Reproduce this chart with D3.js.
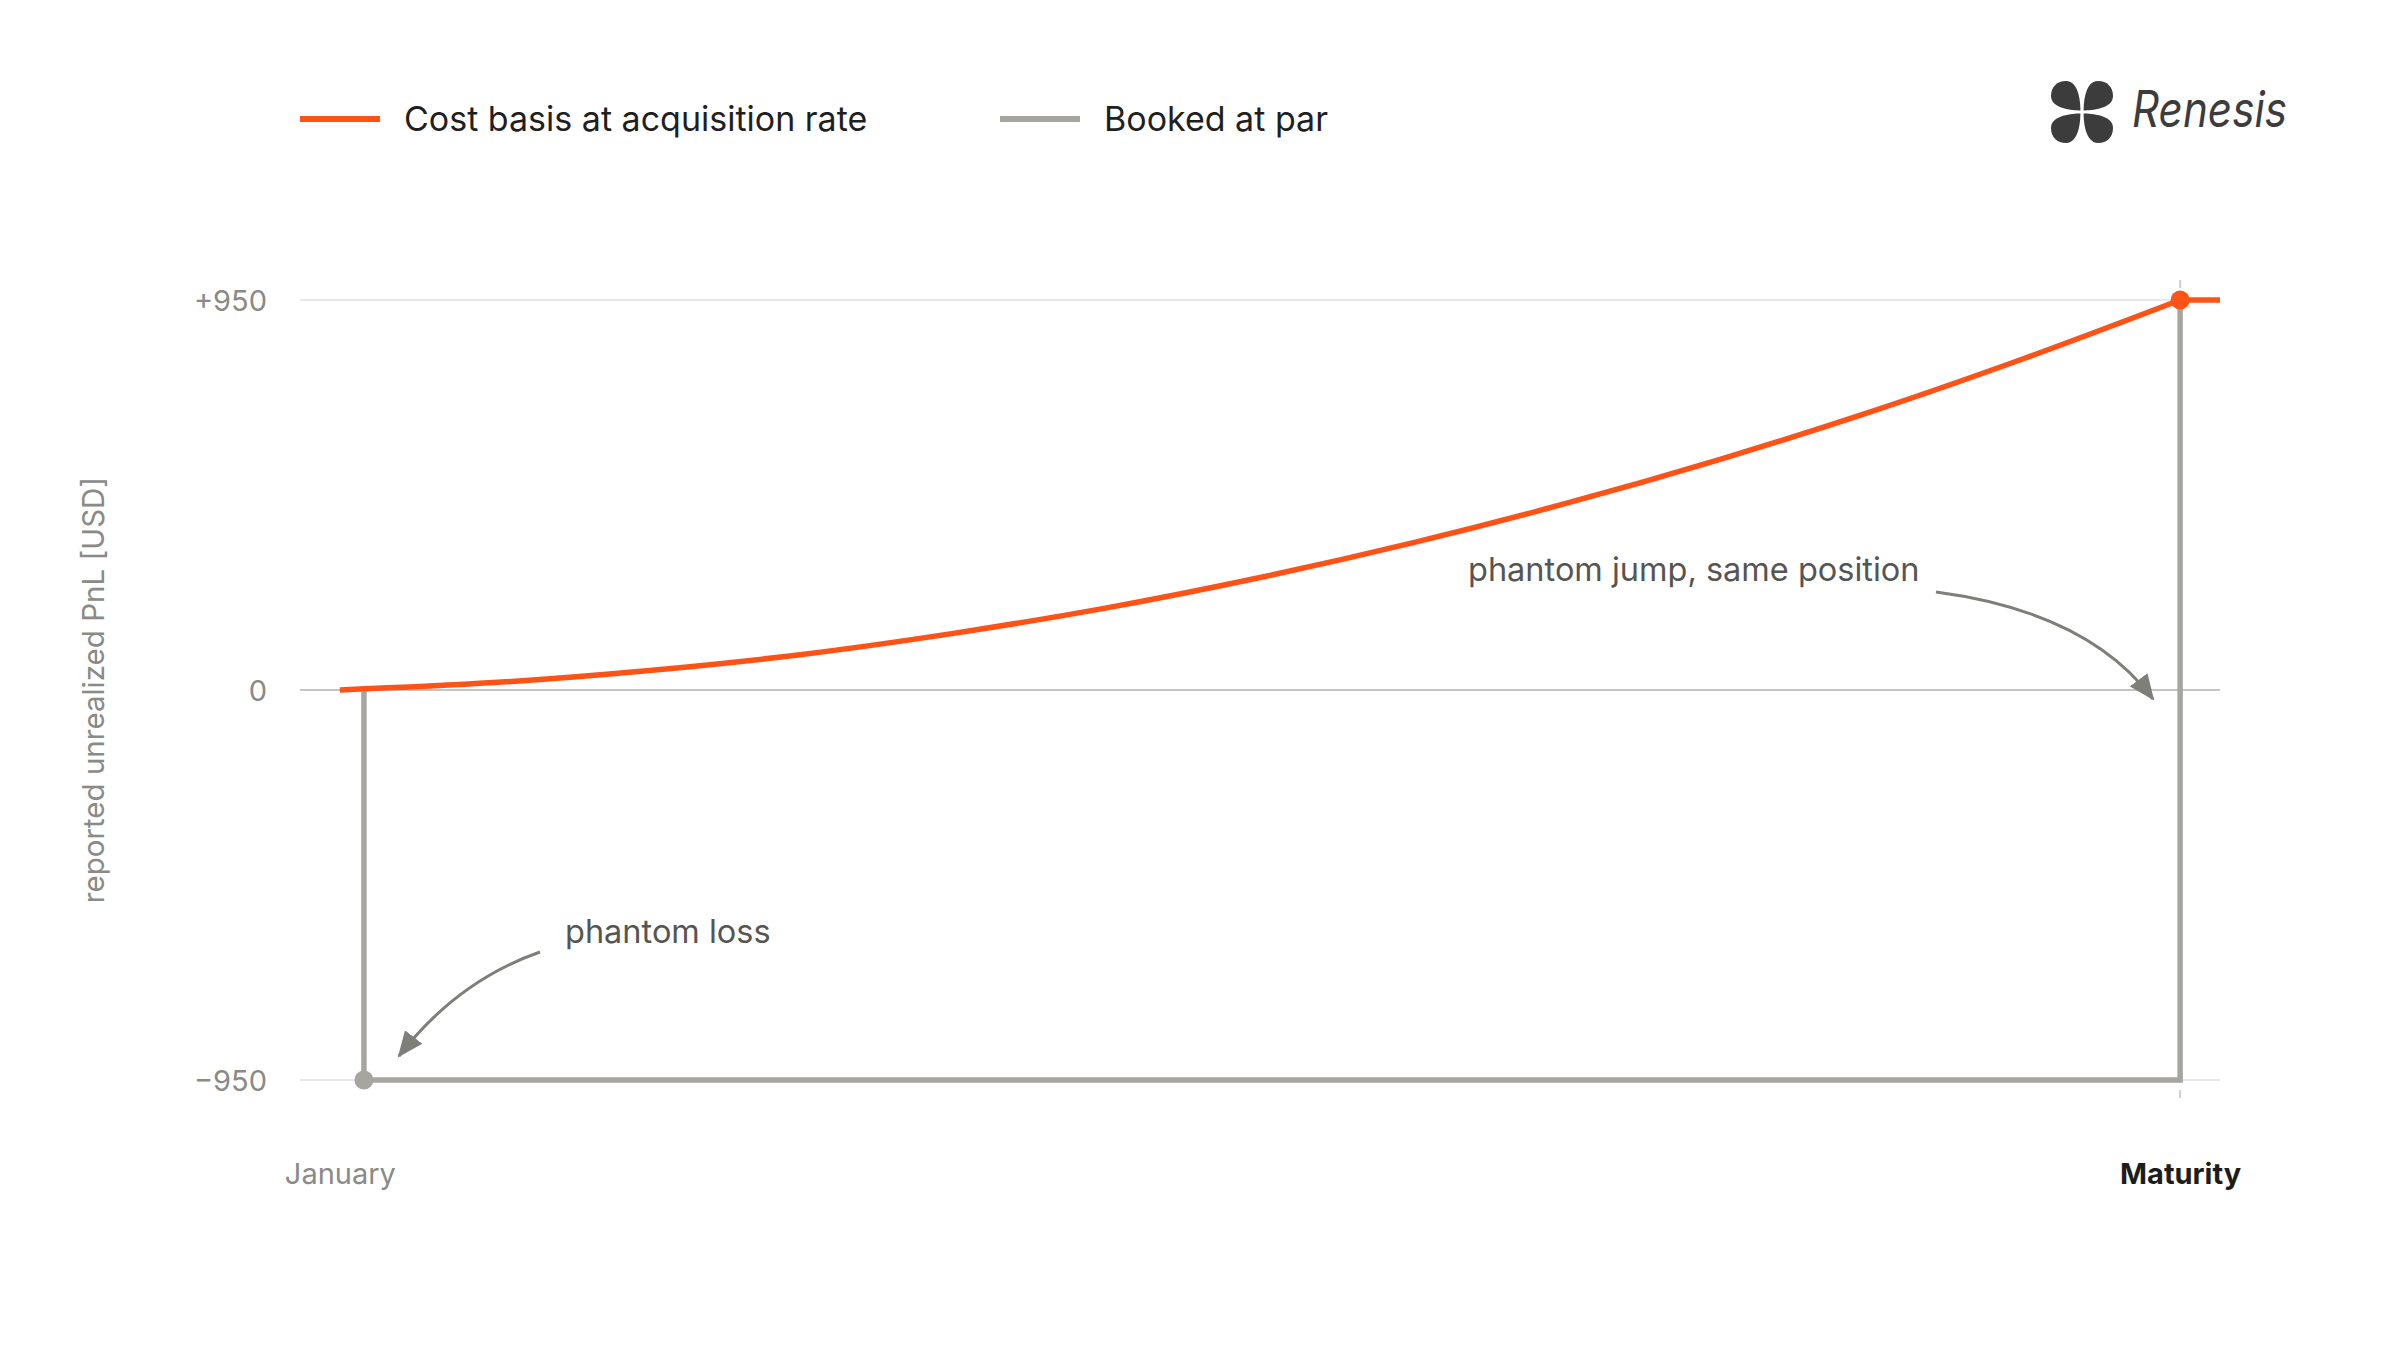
<!DOCTYPE html>
<html>
<head>
<meta charset="utf-8">
<script src="https://cdn.jsdelivr.net/npm/d3@7"></script>
<style>
  html, body { margin: 0; padding: 0; background: #ffffff; }
  svg { display: block; }
  text { font-family: Inter, "Noto Sans", sans-serif; }
</style>
</head>
<body>
<svg id="chart" width="2400" height="1350"></svg>
<script>
// ---------------- data ----------------
// months since January; 12 = maturity
const months = [0, 1, 2, 3, 4, 5, 6, 7, 8, 9, 10, 11, 12];
const costBasis = [0, 18, 47, 86, 138, 200, 274, 359, 455, 562, 680, 810, 950];
const tailMonths = [12, 12.26];
const tailValues = [950, 950];
const parMonths = [0.157, 0.157, 12, 12];
const bookedAtPar = [0, -950, -950, 950];
const yTicks = [-950, 0, 950];
const yTickLabels = ["\u2212950", "0", "+950"];
const xTicks = [0, 12];
const xTickLabels = ["January", "Maturity"];
const seriesNames = ["Cost basis at acquisition rate", "Booked at par"];
const yTitle = "reported unrealized PnL [USD]";
const annotations = ["phantom jump, same position", "phantom loss"];

// ---------------- style ----------------
const ORANGE = "#ff5216";
const GRAY = "#a6a5a0";
const ARROW = "#7f7f7a";

const svg = d3.select("#chart");
const x = d3.scaleLinear().domain([-0.26, 12.26]).range([300, 2220]);
const y = d3.scaleLinear().domain([-950, 950]).range([1080, 300]);

// gridlines
svg.append("g").selectAll("line").data(yTicks).join("line")
  .attr("x1", x(-0.26)).attr("x2", x(12.26))
  .attr("y1", d => y(d)).attr("y2", d => y(d))
  .attr("stroke", d => d === 0 ? "#c4c4c4" : "#e8e8e8")
  .attr("stroke-width", 2);

// maturity dashed marker
svg.append("line")
  .attr("x1", x(12)).attr("x2", x(12))
  .attr("y1", y(950) - 20).attr("y2", y(-950) + 27)
  .attr("stroke", "#cfcfcf").attr("stroke-width", 2)
  .attr("stroke-dasharray", "8,10");

// y axis
const yAxis = d3.axisLeft(y).tickValues(yTicks)
  .tickFormat((d, i) => yTickLabels[i]).tickSize(0).tickPadding(0);
const gy = svg.append("g").attr("transform", "translate(267,0)").call(yAxis);
gy.select(".domain").remove();
gy.selectAll("text")
  .attr("font-family", "Inter, sans-serif")
  .attr("font-size", 29).attr("fill", "#8a8a86").attr("dy", "0.35em");

// x axis
const xAxis = d3.axisBottom(x).tickValues(xTicks)
  .tickFormat((d, i) => xTickLabels[i]).tickSize(0).tickPadding(0);
const gx = svg.append("g").attr("transform", "translate(0,1184)").call(xAxis);
gx.select(".domain").remove();
gx.selectAll("text")
  .attr("font-family", "Inter, sans-serif")
  .attr("font-size", 29).attr("dy", 0)
  .attr("fill", (d, i) => i === 0 ? "#8a8a86" : "#1c1c1c")
  .attr("font-weight", (d, i) => i === 0 ? 400 : 700);

// y title
svg.append("text")
  .attr("transform", `translate(104,${y(0)}) rotate(-90)`)
  .attr("text-anchor", "middle")
  .attr("font-size", 29.5).attr("fill", "#8a8a86")
  .text(yTitle);

// booked at par (step)
const parLine = d3.line().x(d => x(d[0])).y(d => y(d[1]));
svg.append("path")
  .datum(parMonths.map((m, i) => [m, bookedAtPar[i]]))
  .attr("d", parLine)
  .attr("fill", "none").attr("stroke", GRAY).attr("stroke-width", 5.5)
  .attr("stroke-linejoin", "miter");
svg.append("circle")
  .attr("cx", x(parMonths[1])).attr("cy", y(bookedAtPar[1])).attr("r", 9.5)
  .attr("fill", GRAY);

// cost basis curve
const costLine = d3.line().x(d => x(d[0])).y(d => y(d[1])).curve(d3.curveMonotoneX);
svg.append("path")
  .datum(months.map((m, i) => [m, costBasis[i]]))
  .attr("d", costLine)
  .attr("fill", "none").attr("stroke", ORANGE).attr("stroke-width", 5.5);
svg.append("path")
  .datum(tailMonths.map((m, i) => [m, tailValues[i]]))
  .attr("d", d3.line().x(d => x(d[0])).y(d => y(d[1])))
  .attr("fill", "none").attr("stroke", ORANGE).attr("stroke-width", 5.5);
svg.append("circle")
  .attr("cx", x(12)).attr("cy", y(950)).attr("r", 9.5)
  .attr("fill", ORANGE);

// legend
const legend = svg.append("g");
const legendX = [300, 1000];
const legendColors = [ORANGE, GRAY];
seriesNames.forEach((name, i) => {
  legend.append("line")
    .attr("x1", legendX[i]).attr("x2", legendX[i] + 80)
    .attr("y1", 119).attr("y2", 119)
    .attr("stroke", legendColors[i]).attr("stroke-width", 6);
  legend.append("text")
    .attr("x", legendX[i] + 104).attr("y", 131)
    .attr("font-size", 34).attr("fill", "#1f1f1f")
    .text(name);
});

// annotations
const defs = svg.append("defs");
defs.append("marker").attr("id", "arrowhead")
  .attr("viewBox", "0 0 26 22").attr("refX", 24).attr("refY", 11)
  .attr("markerWidth", 26).attr("markerHeight", 22)
  .attr("markerUnits", "userSpaceOnUse").attr("orient", "auto")
  .append("path").attr("d", "M0,0 L26,11 L0,22 Z").attr("fill", ARROW);

svg.append("text").attr("x", 1468).attr("y", 581)
  .attr("font-size", 32.5).attr("fill", "#555552").text(annotations[0]);
svg.append("path")
  .attr("d", "M1936,592 Q2088,612 2153,699")
  .attr("fill", "none").attr("stroke", ARROW).attr("stroke-width", 3)
  .attr("marker-end", "url(#arrowhead)");

svg.append("text").attr("x", 565).attr("y", 943)
  .attr("font-size", 32.5).attr("fill", "#555552").text(annotations[1]);
svg.append("path")
  .attr("d", "M540,952 Q457,981 399,1056")
  .attr("fill", "none").attr("stroke", ARROW).attr("stroke-width", 3)
  .attr("marker-end", "url(#arrowhead)");

// logo
const logo = svg.append("g").attr("transform", "translate(2082,112)");
const leaf = "M-1.6,-1.6 C-1.6,-9 -3,-31 -16,-31 C-25,-31 -31,-25 -31,-16 C-31,-3 -9,-1.6 -1.6,-1.6 Z";
[0, 90, 180, 270].forEach(a => {
  logo.append("path").attr("d", leaf).attr("transform", `rotate(${a})`).attr("fill", "#3c3c3c");
});
svg.append("text").attr("x", 2132).attr("y", 127)
  .attr("font-family", "'Liberation Serif', 'DejaVu Serif', serif")
  .attr("font-style", "italic").attr("font-size", 50)
  .attr("textLength", 155).attr("lengthAdjust", "spacingAndGlyphs")
  .attr("fill", "#3c3c3c").text("Renesis");
</script>
</body>
</html>
